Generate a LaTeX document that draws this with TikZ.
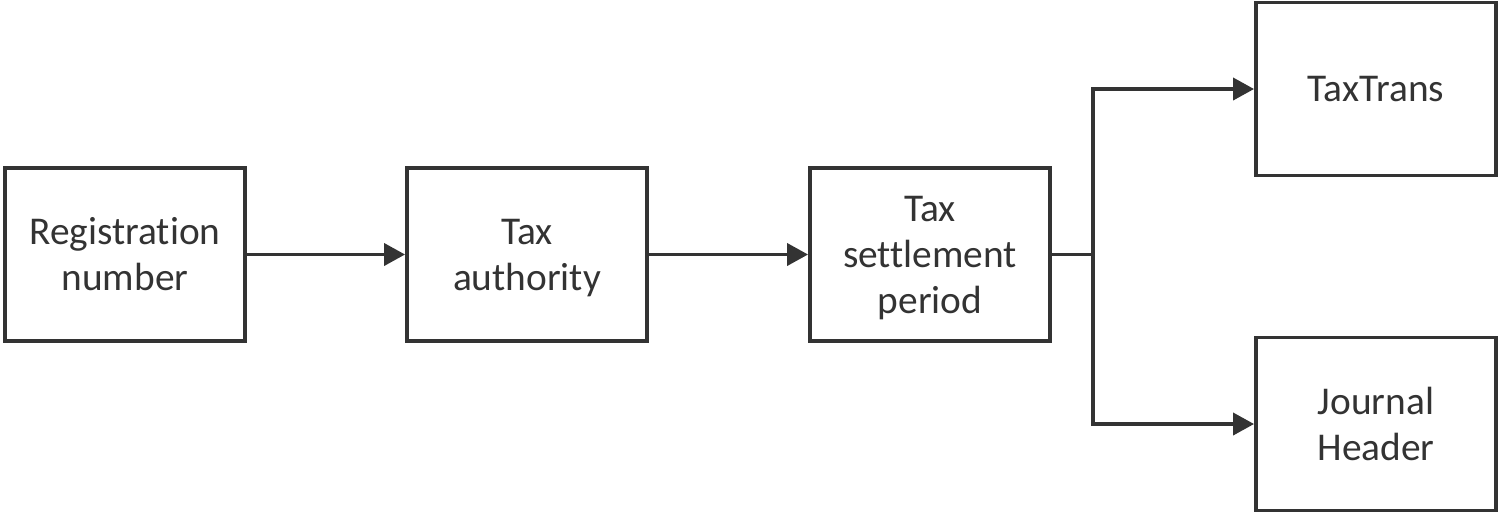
\documentclass[tikz,border=0pt]{standalone}
\usepackage{fontspec}
\setmainfont[Ligatures=NoCommon]{Carlito}
\usetikzlibrary{arrows.meta}

\definecolor{linegray}{HTML}{333333}

\tikzset{
    entity/.style={draw=linegray, line width=1.1pt, minimum width=2.4cm, minimum height=1.73cm,
        align=center, text=linegray, font=\fontsize{11.2}{13.1}\selectfont, inner sep=0pt},
    link/.style={draw=linegray, line width=1.1pt, -{Triangle[length=0.21cm, width=0.22cm]}}
}

\begin{document}
\begin{tikzpicture}
    		% Fix the page size
    		\useasboundingbox (0,0) rectangle (15,-5.13);
    
    		% Draw the boxes
    		\node[entity] (regnum) at (1.25,-2.545) {Registration\\number};
    		\node[entity] (authority) at (5.27,-2.545) {\strut Tax\\authority};
    		\node[entity] (period) at (9.30,-2.545) {\strut Tax\\settlement\\period};
    		\node[entity] (taxtrans) at (13.76,-0.89) {TaxTrans};
    		\node[entity] (journal) at (13.76,-4.24) {Journal\\Header};
    
    		% Split point after the period
    		\coordinate (split) at (10.93,-2.545);
    
    		% Draw the arrows
    		\draw[link] (regnum) -- (authority);
    		\draw[link] (authority) -- (period);
    		\draw[draw=linegray, line width=1.1pt] (period) -- (split);
    		\draw[link] (split) |- (taxtrans);
    		\draw[link] (split) |- (journal);
    	\end{tikzpicture}
\end{document}
